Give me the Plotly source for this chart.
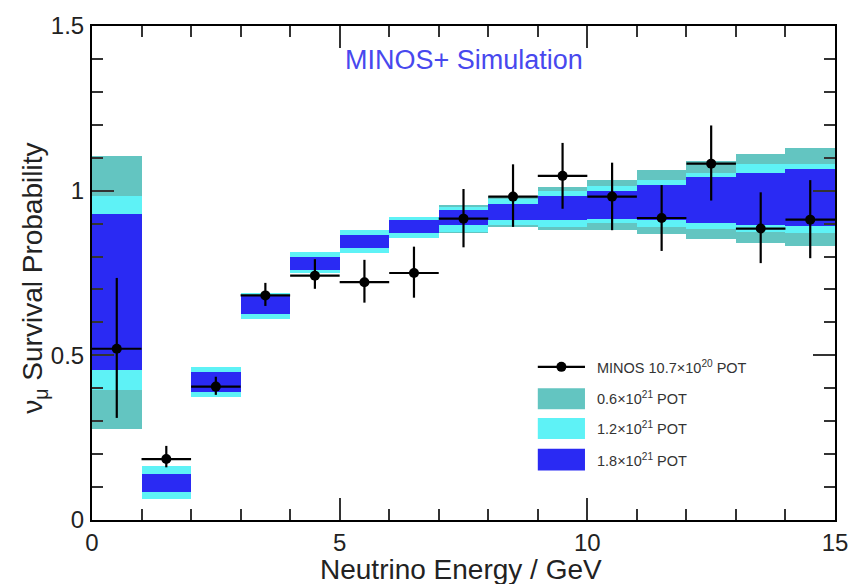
import plotly.graph_objects as go

# ---- data ----
bin_centers = [0.5, 1.5, 2.5, 3.5, 4.5, 5.5, 6.5, 7.5, 8.5, 9.5, 10.5, 11.5, 12.5, 13.5, 14.5]

# 0.6e21 POT band (teal)
teal_lo = [0.275, 0.065, 0.375, 0.610, 0.750, 0.810, 0.855, 0.870, 0.890, 0.880, 0.880, 0.868, 0.852, 0.840, 0.832]
teal_hi = [1.105, 0.165, 0.465, 0.690, 0.815, 0.880, 0.920, 0.955, 0.985, 1.010, 1.032, 1.062, 1.090, 1.112, 1.130]
# 1.2e21 POT band (cyan)
cyan_lo = [0.396, 0.065, 0.375, 0.610, 0.750, 0.810, 0.855, 0.875, 0.895, 0.890, 0.902, 0.890, 0.885, 0.875, 0.870]
cyan_hi = [0.985, 0.165, 0.465, 0.690, 0.815, 0.880, 0.920, 0.950, 0.975, 1.000, 1.015, 1.032, 1.055, 1.080, 1.080]
# 1.8e21 POT band (blue)
blue_lo = [0.456, 0.085, 0.390, 0.625, 0.760, 0.825, 0.870, 0.895, 0.910, 0.910, 0.915, 0.910, 0.903, 0.895, 0.892]
blue_hi = [0.930, 0.140, 0.450, 0.680, 0.800, 0.865, 0.910, 0.940, 0.960, 0.985, 0.998, 1.017, 1.040, 1.053, 1.065]

# MINOS data points
data_y = [0.520, 0.185, 0.405, 0.682, 0.742, 0.722, 0.750, 0.915, 0.982, 1.045, 0.982, 0.917, 1.082, 0.885, 0.912]
err_up = [0.215, 0.040, 0.030, 0.038, 0.050, 0.068, 0.080, 0.090, 0.098, 0.100, 0.103, 0.100, 0.116, 0.110, 0.120]
err_dn = [0.210, 0.025, 0.025, 0.032, 0.040, 0.062, 0.075, 0.087, 0.092, 0.100, 0.102, 0.100, 0.112, 0.105, 0.117]
bin_half_width = [0.5] * 15

legend_labels = ["MINOS 10.7×10<sup>20</sup> POT",
                 "0.6×10<sup>21</sup> POT",
                 "1.2×10<sup>21</sup> POT",
                 "1.8×10<sup>21</sup> POT"]

x_ticks = [0, 5, 10, 15]
x_ticklabels = ["0", "5", "10", "15"]
y_ticks = [0, 0.5, 1, 1.5]
y_ticklabels = ["0", "0.5", "1", "1.5"]

TEAL = "#63c5c1"
CYAN = "#5ef2f6"
BLUE = "#2a2af3"

fig = go.Figure()


def band(lo, hi, color):
    fig.add_trace(go.Bar(
        x=bin_centers, y=[h - l for l, h in zip(lo, hi)], base=lo,
        width=1.0, marker=dict(color=color, line=dict(width=0)),
        showlegend=False, hoverinfo="skip"))


band(teal_lo, teal_hi, TEAL)
band(cyan_lo, cyan_hi, CYAN)
band(blue_lo, blue_hi, BLUE)

fig.add_trace(go.Scatter(
    x=bin_centers, y=data_y, mode="markers",
    marker=dict(color="black", size=10),
    error_x=dict(type="data", array=bin_half_width, color="black", thickness=2.2, width=0),
    error_y=dict(type="data", array=err_up, arrayminus=err_dn, symmetric=False,
                 color="black", thickness=2.2, width=0),
    showlegend=False))

FONT = "Liberation Sans, Arial, Helvetica, sans-serif"

axis_common = dict(
    showline=True, linecolor="black", linewidth=2, mirror="ticks",
    ticks="inside", ticklen=22, tickwidth=1.5, tickcolor="#333",
    showgrid=False, zeroline=False,
    tickfont=dict(family=FONT, size=24, color="#222"),
)

fig.update_layout(
    width=860, height=584,
    margin=dict(l=92, r=25, t=20, b=64),
    paper_bgcolor="white", plot_bgcolor="white",
    barmode="overlay", bargap=0,
    showlegend=False,
    xaxis=dict(range=[0, 15], tickvals=x_ticks, ticktext=x_ticklabels,
               minor=dict(dtick=1, ticks="inside", ticklen=11, tickcolor="#333", tickwidth=1.5),
               **axis_common),
    yaxis=dict(range=[0, 1.5], tickvals=y_ticks, ticktext=y_ticklabels,
               minor=dict(dtick=0.1, ticks="inside", ticklen=11, tickcolor="#333", tickwidth=1.5),
               ticklabelstandoff=1,
               **axis_common),
)

# axis titles
fig.add_annotation(text="Neutrino Energy / GeV", xref="paper", yref="paper",
                   x=0.497, y=-0.1, showarrow=False, xanchor="center", yanchor="middle",
                   font=dict(family=FONT, size=28, color="#222"))
fig.add_annotation(text="ν<sub>μ</sub> Survival Probability", xref="paper", yref="paper",
                   x=-0.077, y=0.49, showarrow=False, textangle=-90,
                   xanchor="center", yanchor="middle",
                   font=dict(family=FONT, size=28, color="#222"))
fig.add_annotation(text="MINOS+ Simulation", xref="paper", yref="paper",
                   x=0.5, y=0.932, showarrow=False, xanchor="center", yanchor="middle",
                   font=dict(family=FONT, size=27, color="#4848ee"))

# legend (drawn manually)
lx0, lx1 = 0.600, 0.6635
fig.add_shape(type="line", xref="paper", yref="paper", x0=lx0, x1=lx1, y0=0.31, y1=0.31,
              line=dict(color="black", width=2.2))
fig.add_shape(type="circle", xref="paper", yref="paper", xsizemode="pixel", ysizemode="pixel",
              xanchor=(lx0 + lx1) / 2, yanchor=0.31, x0=-5, x1=5, y0=-5, y1=5,
              fillcolor="black", line=dict(color="black", width=0))
box_rows = [(0.224, 0.2666, TEAL), (0.164, 0.2066, CYAN), (0.100, 0.144, BLUE)]
for y0, y1, c in box_rows:
    fig.add_shape(type="rect", xref="paper", yref="paper", x0=lx0, x1=lx1, y0=y0, y1=y1,
                  fillcolor=c, line=dict(width=0))
text_y = [0.31, 0.246, 0.186, 0.122]
for lbl, ty in zip(legend_labels, text_y):
    fig.add_annotation(text=lbl, xref="paper", yref="paper", x=0.677, y=ty,
                       showarrow=False, xanchor="left", yanchor="middle",
                       font=dict(family=FONT, size=14.5, color="#333"))

fig.write_html("out.html",
               config={"displayModeBar": False},
               post_script="document.body.style.margin='0';document.body.style.overflow='hidden';")
